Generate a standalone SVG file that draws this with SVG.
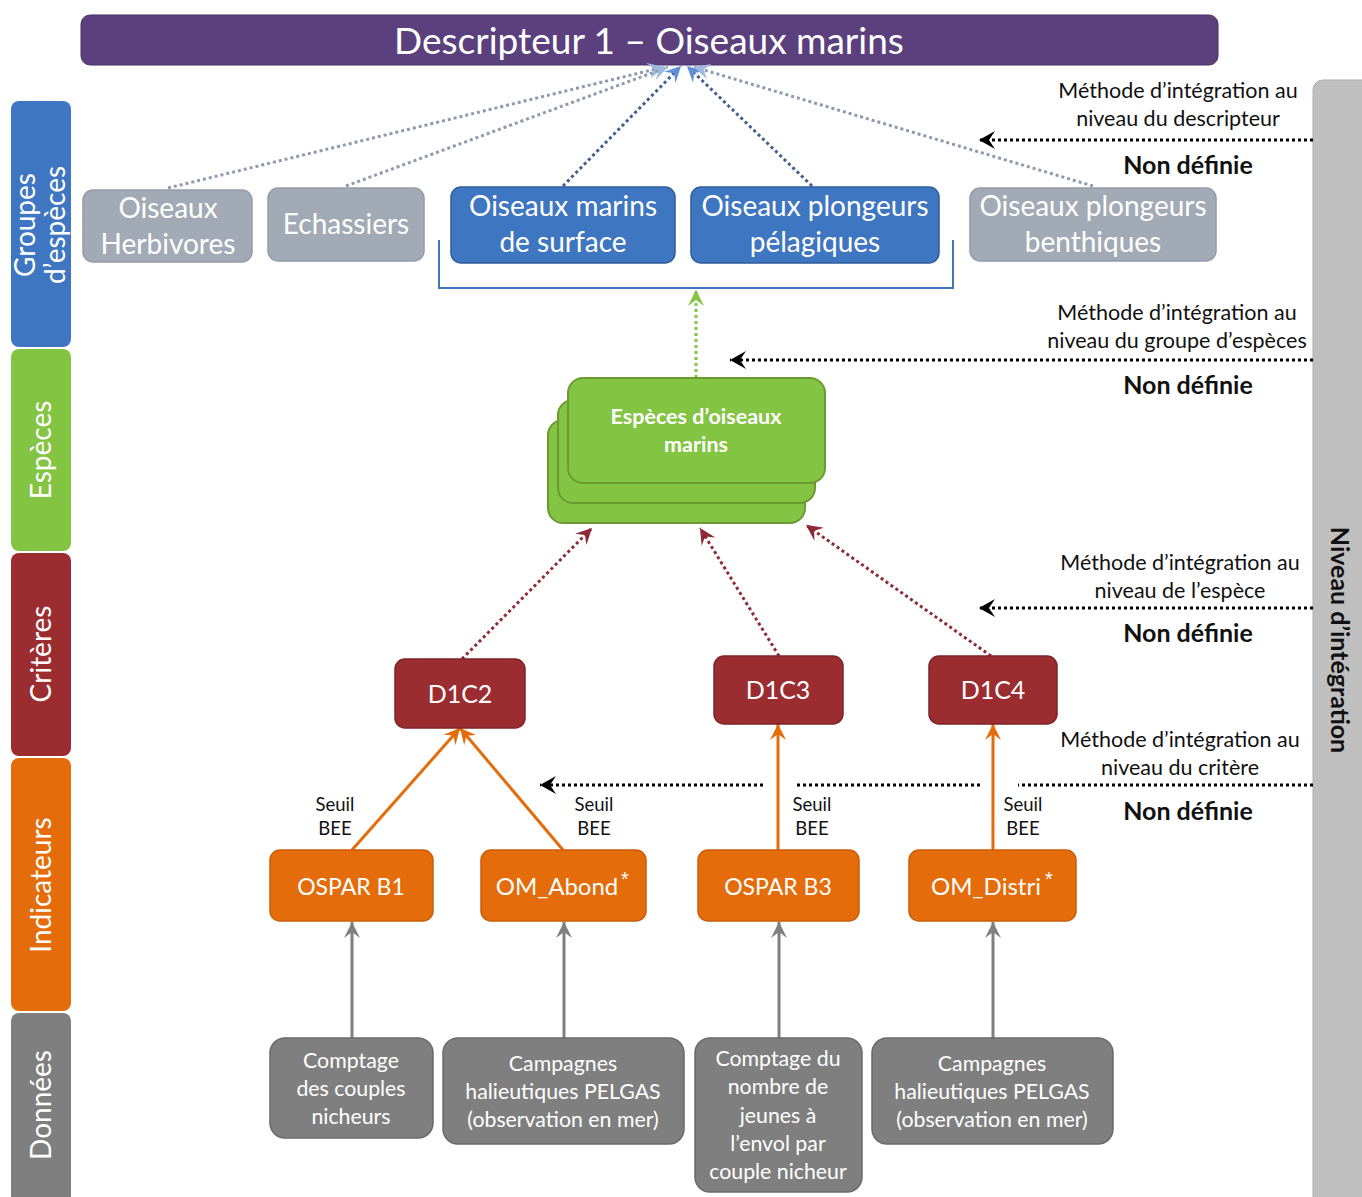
<svg xmlns="http://www.w3.org/2000/svg" width="1362" height="1197" viewBox="0 0 1362 1197">
<style>
text{font-family:Lato,"Liberation Sans",sans-serif;}
.w{fill:#fff;text-anchor:middle;}
.k{fill:#111;text-anchor:middle;}
.band{font-size:28px;fill:#fff;text-anchor:middle;}
.grp{font-size:28px;}
.meth{font-size:21.5px;}
.nd{font-size:25px;font-weight:bold;}
.seuil{font-size:18.5px;}
.dt{font-size:21.3px;}
.ast{font-family:"Liberation Sans",sans-serif;font-size:20px;}
.crit{fill:#9b2d30;stroke:#7e2327;stroke-width:1.5;}
.ind{fill:#e46c0a;stroke:#c95e08;stroke-width:1.5;}
.dat{fill:#7f7f7f;stroke:#6a6a6a;stroke-width:1.5;}
.gray{fill:#a2aab5;stroke:#949ca8;stroke-width:1.5;}
.blue{fill:#3f76c1;stroke:#2f5d9c;stroke-width:1.5;}
.sp{fill:#84c443;stroke:#6b9a33;stroke-width:2;}
.dk{stroke:#000;stroke-width:3;stroke-dasharray:3 3;fill:none;}
</style>
<defs>
<marker id="mK" markerUnits="userSpaceOnUse" markerWidth="20" markerHeight="18" refX="16" refY="9" orient="auto"><path d="M0,0 L16,9 L0,18 L6,9 Z" fill="#000"/></marker>
<marker id="mO" markerUnits="userSpaceOnUse" markerWidth="20" markerHeight="16" refX="16" refY="8" orient="auto"><path d="M0,0 L16,8 L0,16 L6,8 Z" fill="#e46c0a"/></marker>
<marker id="mG" markerUnits="userSpaceOnUse" markerWidth="20" markerHeight="16" refX="16" refY="8" orient="auto"><path d="M0,0 L16,8 L0,16 L6,8 Z" fill="#7f7f7f"/></marker>
<marker id="mR" markerUnits="userSpaceOnUse" markerWidth="20" markerHeight="16" refX="16" refY="8" orient="auto"><path d="M0,0 L16,8 L0,16 L6,8 Z" fill="#8e2a35"/></marker>
<marker id="mN" markerUnits="userSpaceOnUse" markerWidth="20" markerHeight="16" refX="16" refY="8" orient="auto"><path d="M0,0 L16,8 L0,16 L6,8 Z" fill="#84c443"/></marker>
<marker id="mB" markerUnits="userSpaceOnUse" markerWidth="20" markerHeight="16" refX="16" refY="8" orient="auto"><path d="M0,0 L16,8 L0,16 L6,8 Z" fill="#5f8fd6"/></marker>
<marker id="mL" markerUnits="userSpaceOnUse" markerWidth="20" markerHeight="16" refX="16" refY="8" orient="auto"><path d="M0,0 L16,8 L0,16 L6,8 Z" fill="#9fb8e0"/></marker>
</defs>

<!-- Right side band -->
<g id="niveau">
<rect x="1313" y="80" width="60" height="1130" rx="10" fill="#bfbfbf" stroke="#adadad" stroke-width="1"/>
<text transform="translate(1331,640) rotate(90)" font-size="25" font-weight="bold" fill="#111" text-anchor="middle">Niveau d’intégration</text>
</g>

<!-- Left bands -->
<g id="band-groupes"><rect x="11" y="101" width="60" height="246" rx="8" fill="#3f76c1"/>
<text class="band" transform="translate(35,225) rotate(-90)">Groupes</text>
<text class="band" transform="translate(65,225) rotate(-90)">d’espèces</text></g>
<g id="band-especes"><rect x="11" y="349" width="60" height="202" rx="8" fill="#84c443"/>
<text class="band" transform="translate(51,450) rotate(-90)">Espèces</text></g>
<g id="band-criteres"><rect x="11" y="553" width="60" height="203" rx="8" fill="#9b2d30"/>
<text class="band" transform="translate(51,654) rotate(-90)">Critères</text></g>
<g id="band-indicateurs"><rect x="11" y="758" width="60" height="253" rx="8" fill="#e46c0a"/>
<text class="band" transform="translate(51,885) rotate(-90)">Indicateurs</text></g>
<g id="band-donnees"><rect x="11" y="1013" width="60" height="200" rx="8" fill="#7f7f7f"/>
<text class="band" transform="translate(51,1105) rotate(-90)">Données</text></g>

<!-- Header -->
<g id="descripteur">
<rect x="81" y="15" width="1137" height="50" rx="9" fill="#5c3f7d" stroke="#4c3169" stroke-width="1"/>
<text class="w" x="649" y="54" font-size="37">Descripteur 1 – Oiseaux marins</text>
</g>

<!-- Connectors -->
<g id="connectors" fill="none">
<line x1="168" y1="188" x2="664" y2="67" stroke="#8d9bb0" stroke-width="3" stroke-dasharray="3 3" marker-end="url(#mL)"/>
<line x1="346" y1="186" x2="668" y2="67" stroke="#8d9bb0" stroke-width="3" stroke-dasharray="3 3" marker-end="url(#mL)"/>
<line x1="563" y1="186" x2="681" y2="66" stroke="#3f5f8e" stroke-width="3" stroke-dasharray="3 3" marker-end="url(#mB)"/>
<line x1="812" y1="186" x2="687" y2="66" stroke="#3f5f8e" stroke-width="3" stroke-dasharray="3 3" marker-end="url(#mB)"/>
<line x1="1093" y1="186" x2="694" y2="67" stroke="#8d9bb0" stroke-width="3" stroke-dasharray="3 3" marker-end="url(#mL)"/>
<path d="M439,240 V288 H953 V240" stroke="#3f76c1" stroke-width="2"/>
<line x1="696" y1="378" x2="696" y2="290" stroke="#84c443" stroke-width="3" stroke-dasharray="3 3" marker-end="url(#mN)"/>
<line x1="462" y1="659" x2="592" y2="528" stroke="#8e2a35" stroke-width="3" stroke-dasharray="3 3" marker-end="url(#mR)"/>
<line x1="779" y1="656" x2="700" y2="528" stroke="#8e2a35" stroke-width="3" stroke-dasharray="3 3" marker-end="url(#mR)"/>
<line x1="991" y1="656" x2="806" y2="525" stroke="#8e2a35" stroke-width="3" stroke-dasharray="3 3" marker-end="url(#mR)"/>
<line x1="352" y1="850" x2="460" y2="728" stroke="#e46c0a" stroke-width="3" marker-end="url(#mO)"/>
<line x1="563" y1="850" x2="460" y2="728" stroke="#e46c0a" stroke-width="3" marker-end="url(#mO)"/>
<line x1="778" y1="850" x2="778" y2="724" stroke="#e46c0a" stroke-width="3" marker-end="url(#mO)"/>
<line x1="993" y1="850" x2="993" y2="724" stroke="#e46c0a" stroke-width="3" marker-end="url(#mO)"/>
<line x1="352" y1="1038" x2="352" y2="922" stroke="#7f7f7f" stroke-width="3" marker-end="url(#mG)"/>
<line x1="564" y1="1038" x2="564" y2="922" stroke="#7f7f7f" stroke-width="3" marker-end="url(#mG)"/>
<line x1="779" y1="1038" x2="779" y2="922" stroke="#7f7f7f" stroke-width="3" marker-end="url(#mG)"/>
<line x1="993" y1="1038" x2="993" y2="922" stroke="#7f7f7f" stroke-width="3" marker-end="url(#mG)"/>
<line class="dk" x1="1313" y1="140" x2="979" y2="140" marker-end="url(#mK)"/>
<line class="dk" x1="1313" y1="360" x2="730" y2="360" marker-end="url(#mK)"/>
<line class="dk" x1="1313" y1="608" x2="979" y2="608" marker-end="url(#mK)"/>
<line class="dk" x1="1313" y1="785" x2="1018" y2="785"/>
<line class="dk" x1="980" y1="785" x2="795" y2="785"/>
<line class="dk" x1="763" y1="785" x2="540" y2="785" marker-end="url(#mK)"/>
</g>

<!-- Groups -->
<g id="g-herbivores"><rect class="gray" x="83" y="190" width="169" height="72" rx="10"/>
<text class="w grp" x="168" y="218">Oiseaux</text><text class="w grp" x="168" y="254">Herbivores</text></g>
<g id="g-echassiers"><rect class="gray" x="268" y="188" width="156" height="73" rx="10"/>
<text class="w grp" x="346" y="234">Echassiers</text></g>
<g id="g-surface"><rect class="blue" x="451" y="187" width="224" height="76" rx="10"/>
<text class="w grp" x="563" y="216">Oiseaux marins</text><text class="w grp" x="563" y="252">de surface</text></g>
<g id="g-pelagiques"><rect class="blue" x="691" y="187" width="248" height="76" rx="10"/>
<text class="w grp" x="815" y="216">Oiseaux plongeurs</text><text class="w grp" x="815" y="252">pélagiques</text></g>
<g id="g-benthiques"><rect class="gray" x="970" y="188" width="246" height="73" rx="10"/>
<text class="w grp" x="1093" y="216">Oiseaux plongeurs</text><text class="w grp" x="1093" y="252">benthiques</text></g>

<!-- Species -->
<g id="especes">
<rect class="sp" x="548" y="420" width="257" height="103" rx="15"/>
<rect class="sp" x="558" y="400" width="257" height="103" rx="15"/>
<rect class="sp" x="568" y="378" width="257" height="105" rx="15"/>
<text class="w" x="696" y="424" font-size="21.5" font-weight="bold">Espèces d’oiseaux</text>
<text class="w" x="696" y="452" font-size="21.5" font-weight="bold">marins</text>
</g>

<!-- Criteria -->
<g id="d1c2"><rect class="crit" x="395" y="659" width="130" height="69" rx="10"/><text class="w" x="460" y="703" font-size="25">D1C2</text></g>
<g id="d1c3"><rect class="crit" x="714" y="656" width="129" height="68" rx="10"/><text class="w" x="778" y="699" font-size="25">D1C3</text></g>
<g id="d1c4"><rect class="crit" x="929" y="656" width="128" height="68" rx="10"/><text class="w" x="993" y="699" font-size="25">D1C4</text></g>

<!-- Indicators -->
<g id="ospar-b1"><rect class="ind" x="270" y="850" width="163" height="71" rx="10"/><text class="w" x="351" y="895" font-size="23">OSPAR B1</text></g>
<g id="om-abond"><rect class="ind" x="481" y="850" width="165" height="71" rx="10"/><text class="w" x="557" y="895" font-size="24">OM_Abond</text><text class="w ast" x="625" y="886">*</text></g>
<g id="ospar-b3"><rect class="ind" x="698" y="850" width="161" height="71" rx="10"/><text class="w" x="778" y="895" font-size="23">OSPAR B3</text></g>
<g id="om-distri"><rect class="ind" x="909" y="850" width="167" height="71" rx="10"/><text class="w" x="986" y="895" font-size="24">OM_Distri</text><text class="w ast" x="1049" y="886">*</text></g>

<!-- Seuil BEE labels -->
<g id="seuils">
<text class="k seuil" x="335" y="811">Seuil</text><text class="k seuil" x="335" y="835">BEE</text>
<text class="k seuil" x="594" y="811">Seuil</text><text class="k seuil" x="594" y="835">BEE</text>
<text class="k seuil" x="812" y="811">Seuil</text><text class="k seuil" x="812" y="835">BEE</text>
<text class="k seuil" x="1023" y="811">Seuil</text><text class="k seuil" x="1023" y="835">BEE</text>
</g>

<!-- Data -->
<g id="data-comptage"><rect class="dat" x="270" y="1038" width="163" height="100" rx="15"/>
<text class="w dt" x="351" y="1068">Comptage</text><text class="w dt" x="351" y="1096">des couples</text><text class="w dt" x="351" y="1124">nicheurs</text></g>
<g id="data-pelgas1"><rect class="dat" x="443" y="1038" width="241" height="106" rx="15"/>
<text class="w dt" x="563" y="1071">Campagnes</text><text class="w dt" x="563" y="1099">halieutiques PELGAS</text><text class="w dt" x="563" y="1127">(observation en mer)</text></g>
<g id="data-jeunes"><rect class="dat" x="695" y="1038" width="167" height="154" rx="15"/>
<text class="w dt" x="778" y="1066">Comptage du</text><text class="w dt" x="778" y="1094">nombre de</text><text class="w dt" x="778" y="1123">jeunes à</text><text class="w dt" x="778" y="1151">l’envol par</text><text class="w dt" x="778" y="1179">couple nicheur</text></g>
<g id="data-pelgas2"><rect class="dat" x="872" y="1038" width="241" height="106" rx="15"/>
<text class="w dt" x="992" y="1071">Campagnes</text><text class="w dt" x="992" y="1099">halieutiques PELGAS</text><text class="w dt" x="992" y="1127">(observation en mer)</text></g>

<!-- Integration method labels -->
<g id="m-descripteur">
<text class="k meth" x="1178" y="98">Méthode d’intégration au</text><text class="k meth" x="1178" y="126">niveau du descripteur</text>
<text class="k nd" x="1188" y="174">Non définie</text></g>
<g id="m-groupe">
<text class="k meth" x="1177" y="320">Méthode d’intégration au</text><text class="k meth" x="1177" y="348">niveau du groupe d’espèces</text>
<text class="k nd" x="1188" y="394">Non définie</text></g>
<g id="m-espece">
<text class="k meth" x="1180" y="570">Méthode d’intégration au</text><text class="k meth" x="1180" y="598">niveau de l’espèce</text>
<text class="k nd" x="1188" y="642">Non définie</text></g>
<g id="m-critere">
<text class="k meth" x="1180" y="747">Méthode d’intégration au</text><text class="k meth" x="1180" y="775">niveau du critère</text>
<text class="k nd" x="1188" y="820">Non définie</text></g>
</svg>
